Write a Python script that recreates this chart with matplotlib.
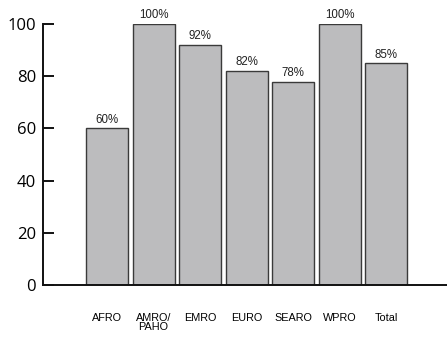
import matplotlib
matplotlib.use("Agg")
import matplotlib.pyplot as plt

# data
regions = ["AFRO", "AMRO/\nPAHO", "EMRO", "EURO", "SEARO", "WPRO", "Total"]
values = [60, 100, 92, 82, 78, 100, 85]
yticks = [0, 20, 40, 60, 80, 100]

fig = plt.figure(figsize=(4.47, 3.37), dpi=100)
ax = fig.add_axes([0.096, 0.154, 0.904, 0.7745])

x = list(range(len(regions)))
bars = ax.bar(x, values, width=0.9, color="#bcbcbe", edgecolor="#3a3a3a", linewidth=1.0)

for xi, v in zip(x, values):
    ax.text(xi, v + 1.0, f"{v}%", ha="center", va="bottom", fontsize=8.3,
            family="Liberation Sans", color="#222222")

ax.set_xlim(-1.38, 7.31)
ax.set_ylim(0, 100)
ax.set_yticks(yticks)
ax.set_xticks(x)
ax.set_xticklabels(regions, fontsize=7.8, family="Liberation Sans", linespacing=0.95)
ax.tick_params(axis="x", length=0, pad=20)
ax.tick_params(axis="y", direction="in", length=8, width=1.3, labelsize=12, pad=5)
for t in ax.get_yticklabels():
    t.set_family("Open Sans")

for s in ["top", "right"]:
    ax.spines[s].set_visible(False)
for s in ["left", "bottom"]:
    ax.spines[s].set_linewidth(1.4)
    ax.spines[s].set_color("#111111")

fig.savefig("out.png", dpi=100)
